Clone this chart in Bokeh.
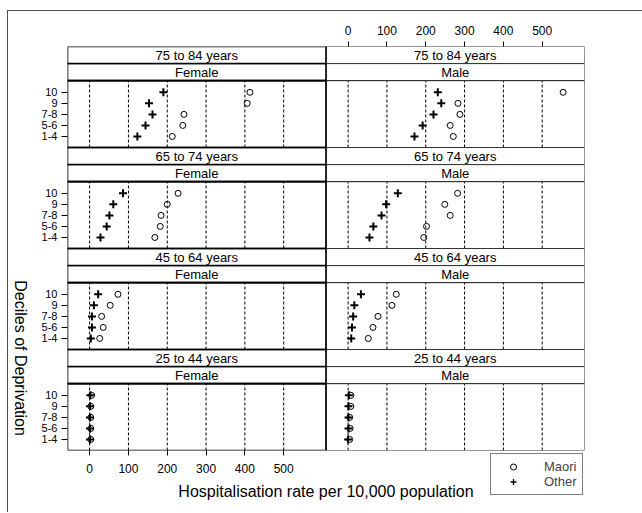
import math
from bokeh.plotting import figure
from bokeh.layouts import column, row
from bokeh.models import (Range1d, LinearAxis, FixedTicker, Legend, LegendItem)
from bokeh.core.properties import value
from bokeh.embed import file_html
from bokeh.resources import INLINE

# ---------------- data ----------------
ages = ["25 to 44 years", "45 to 64 years", "65 to 74 years", "75 to 84 years"]
sexes = ["Female", "Male"]
deciles = ["1-4", "5-6", "7-8", "9", "10"]
x_ticks = [0, 100, 200, 300, 400, 500]

# values ordered by age (as in `ages`) then by decile (as in `deciles`)
maori_female = [3, 3, 3, 3, 5,
                26, 35, 31, 53, 73,
                168, 182, 184, 200, 228,
                213, 240, 243, 406, 413]
other_female = [1, 1, 1, 1, 2,
                3, 6, 6, 11, 22,
                28, 44, 51, 61, 86,
                123, 144, 162, 153, 190]
maori_male = [4, 5, 4, 7, 7,
              52, 64, 77, 113, 124,
              195, 202, 263, 249, 282,
              271, 263, 288, 283, 554]
other_male = [0, 1, 1, 1, 2,
              8, 10, 13, 16, 33,
              55, 65, 86, 98, 128,
              171, 192, 220, 240, 231]

# ---------------- layout constants ----------------
XMIN, XMAX = -57, 609
SPAN = XMAX - XMIN
PANEL_H, STRIP_H = 6.06, 1.545
ROW_H = PANEL_H + 2 * STRIP_H
FONT = "Liberation Sans"
FIG_H = 494

p = figure(width=610, height=FIG_H, output_backend="svg", toolbar_location=None,
           x_range=Range1d(XMIN, XMAX + SPAN), y_range=Range1d(0, 4 * ROW_H),
           x_axis_location=None, y_axis_location=None,
           min_border_left=35, min_border_right=58, min_border_top=35,
           min_border_bottom=55, outline_line_color=None,
           background_fill_color="white", border_fill_color="white")
p.extra_x_ranges = {"right": Range1d(XMIN - SPAN, XMAX)}
p.grid.visible = False

col_range = {"Female": "default", "Male": "right"}
col_line = {"Female": ("black", 1.6), "Male": ("#333333", 1.0)}
series = {"Female": (maori_female, other_female), "Male": (maori_male, other_male)}

for sex in ["Male", "Female"]:
    rn = col_range[sex]
    lc, lw = col_line[sex]
    pb = [r * ROW_H for r in range(len(ages))]
    pt = [b + PANEL_H for b in pb]
    gx, gy0, gy1 = [], [], []
    for b, t in zip(pb, pt):
        for xt in x_ticks:
            gx.append(xt); gy0.append(b); gy1.append(t)
    p.segment(x0=gx, x1=gx, y0=gy0, y1=gy1, line_color="black", line_width=1,
              line_dash="3 2", x_range_name=rn)
    sb, st, stxt = [], [], []
    for r, age in enumerate(ages):
        b = pt[r]
        sb += [b, b + STRIP_H]
        st += [b + STRIP_H, b + 2 * STRIP_H]
        stxt += [sex, age]
    p.quad(left=XMIN, right=XMAX, bottom=sb, top=st, fill_color="white",
           line_color=lc, line_width=lw, x_range_name=rn)
    p.text(x=[(XMIN + XMAX) / 2] * len(stxt), y=[(a + b) / 2 for a, b in zip(sb, st)],
           text=stxt, text_align="center", text_baseline="middle",
           text_font=value(FONT), text_font_size=value("13px"), text_color="black",
           x_range_name=rn)
    p.quad(left=XMIN, right=XMAX, bottom=pb, top=pt, fill_color=None,
           line_color=lc, line_width=lw, x_range_name=rn)
    ys = [r * ROW_H + 1 + k for r in range(len(ages)) for k in range(len(deciles))]
    maori, other = series[sex]
    p.scatter(x=maori, y=ys, marker="circle", size=6, fill_color=None,
              line_color="black", line_width=1, x_range_name=rn)
    p.scatter(x=other, y=ys, marker="cross", size=8, line_color="black",
              line_width=2, x_range_name=rn)

# axes
ytick_pos = [round(r * ROW_H + 1 + k, 4) for r in range(len(ages)) for k in range(len(deciles))]
ytick_lab = {pos: deciles[i % len(deciles)] for i, pos in enumerate(ytick_pos)}
yax = LinearAxis(ticker=FixedTicker(ticks=ytick_pos), major_label_overrides=ytick_lab)
yax.axis_line_color = None
yax.major_tick_out = 6
yax.major_tick_in = 0
yax.major_label_standoff = 4
yax.major_label_text_font = FONT
yax.major_label_text_font_size = "11px"
yax.major_label_text_color = "black"
yax.major_tick_line_color = "black"
p.add_layout(yax, "left")

def style_x(ax):
    ax.axis_line_color = None
    ax.major_tick_out = 5
    ax.major_tick_in = 0
    ax.major_label_text_font = FONT
    ax.major_label_text_font_size = "12px"
    ax.major_label_text_color = "black"
    ax.major_tick_line_color = "black"

xb = LinearAxis(ticker=FixedTicker(ticks=x_ticks),
                axis_label="Hospitalisation rate per 10,000 population")
style_x(xb)
xb.major_label_standoff = 8
xb.axis_label_text_font = FONT
xb.axis_label_text_font_size = "16px"
xb.axis_label_text_font_style = "normal"
xb.axis_label_text_color = "black"
xb.axis_label_standoff = 7
p.add_layout(xb, "below")

xt = LinearAxis(ticker=FixedTicker(ticks=x_ticks), x_range_name="right")
style_x(xt)
xt.major_label_standoff = 7
p.add_layout(xt, "above")

# y axis title (reads top to bottom)
yl = figure(width=24, height=FIG_H, output_backend="svg", toolbar_location=None,
            x_range=Range1d(0, 24), y_range=Range1d(0, FIG_H),
            x_axis_location=None, y_axis_location=None,
            min_border_left=0, min_border_right=0, min_border_top=0,
            min_border_bottom=0, outline_line_color=None,
            background_fill_color="white", border_fill_color="white")
yl.grid.visible = False
yl.text(x=[12], y=[113], text=["Deciles of Deprivation"], angle=-math.pi / 2,
        text_align="center", text_baseline="middle", text_font=value(FONT),
        text_font_size=value("16px"), text_color="black")

# legend (key)
lg = figure(width=97, height=43, output_backend="svg", toolbar_location=None,
            x_range=Range1d(0, 1), y_range=Range1d(0, 1),
            x_axis_location=None, y_axis_location=None,
            min_border_left=0, min_border_right=0, min_border_top=0,
            min_border_bottom=0, outline_line_color=None,
            background_fill_alpha=0, border_fill_alpha=0,
            margin=(-52, 0, 16, 481))
lg.grid.visible = False
nan = float("nan")
lr_m = lg.scatter(x=[nan], y=[nan], marker="circle", size=5, fill_color=None,
                  line_color="black", line_width=1)
lr_o = lg.scatter(x=[nan], y=[nan], marker="cross", size=8, line_color="black",
                  line_width=1.3)
legend = Legend(items=[LegendItem(label="Maori", renderers=[lr_m]),
                       LegendItem(label="Other", renderers=[lr_o])],
                location=(1, 1), orientation="vertical")
legend.border_line_color = "black"
legend.border_line_width = 1
legend.background_fill_color = "white"
legend.background_fill_alpha = 1
legend.padding = 5
legend.spacing = 0
legend.margin = 0
legend.glyph_width = 34
legend.glyph_height = 15
legend.label_height = 15
legend.label_standoff = 14
legend.label_text_font = FONT
legend.label_text_font_size = "13px"
lg.add_layout(legend)

layout = column(row(yl, p), lg, margin=(10, 0, 0, 7),
                styles={"border-left": "1px solid #4d4d4d",
                        "border-top": "1px solid #4d4d4d"})

open("out.html", "w").write(file_html(layout, INLINE))
